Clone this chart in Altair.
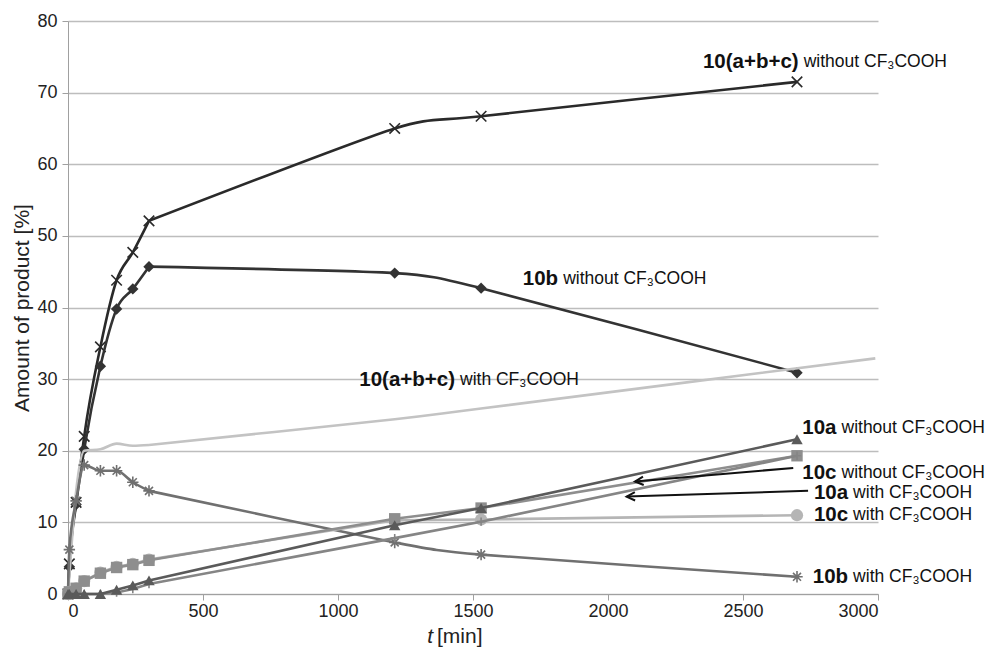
import altair as alt
import pandas as pd

FONT = "Liberation Sans"

# ---------------- data ----------------
times = [0, 5, 30, 60, 120, 180, 240, 300, 1210, 1530, 2700]
times_abc_with = [0, 5, 30, 60, 120, 180, 240, 300, 1210, 1530, 2990]

abc_without = [0, 4.2, 12.8, 22.0, 34.5, 43.8, 47.7, 52.1, 65.0, 66.7, 71.5]
b_without = [0, 3.8, 12.5, 20.2, 31.8, 39.8, 42.6, 45.7, 44.8, 42.7, 30.9]
abc_with = [0, 2.6, 14.3, 20.0, 20.2, 21.0, 20.7, 20.8, 24.4, 25.9, 32.9]
b_with = [0, 6.2, 13.0, 18.0, 17.2, 17.2, 15.6, 14.4, 7.2, 5.5, 2.4]
a_without = [0, 0, 0, 0, 0, 0.6, 1.2, 1.9, 9.6, 12.0, 21.6]
c_without = [0, 0.3, 0.8, 1.8, 2.9, 3.7, 4.1, 4.7, 10.5, 12.0, 19.3]
c_with = [0, 0.3, 0.8, 1.8, 3.0, 3.8, 4.2, 4.8, 10.3, 10.4, 11.0]
a_with = [0, 0, 0, 0, 0, 0.2, 0.7, 1.4, 7.8, 10.1, 19.3]

# annotation labels: bold part, normal part, anchor (junction) position
ann_bold = ["10(a+b+c)", "10b", "10(a+b+c)", "10a", "10c", "10a", "10c", "10b"]
ann_rest = ["without CF₃COOH", "without CF₃COOH", "with CF₃COOH", "without CF₃COOH",
            "without CF₃COOH", "with CF₃COOH", "with CF₃COOH", "with CF₃COOH"]
ann_x = [2710, 1819, 1437, 2850, 2850, 2893, 2893, 2893]
ann_y = [74.3, 44.0, 29.9, 23.2, 16.9, 14.1, 11.0, 2.4]

# arrows: start (label side) -> end (tip on the line)
arr_x = [2686, 2741]
arr_y = [17.6, 14.4]
arr_x2 = [2100, 2069]
arr_y2 = [15.7, 13.6]
arr_angle = [355, 358]

X_PATH = "M-1,-1L1,1M-1,1L1,-1"
AST_PATH = "M-1,0L1,0M0,-1L0,1M-0.7,-0.7L0.7,0.7M-0.7,0.7L0.7,-0.7"
PLUS_PATH = "M-1,0L1,0M0,-1L0,1"
ARROW_PATH = "M2,-1L0,0L2,1"

SPLIT = 7  # index of t = 300: the smoothed curves bend there

series = [
    # times, values, color, smooth?, marker shape, filled, size
    (times, abc_without, "#2a2a2a", True, X_PATH, False, 110),
    (times, b_without, "#333333", True, "diamond", True, 130),
    (times_abc_with, abc_with, "#c3c3c3", True, None, True, 0),
    (times, b_with, "#707070", True, AST_PATH, False, 130),
    (times, c_with, "#b5b5b5", False, "circle", True, 150),
    (times, c_without, "#8e8e8e", False, "square", True, 130),
    (times, a_with, "#858585", False, PLUS_PATH, False, 70),
    (times, a_without, "#5a5a5a", False, "triangle-up", True, 130),
]

xscale = alt.Scale(domain=[0, 3000], nice=False)
yscale = alt.Scale(domain=[0, 80], nice=False)

x_axis = alt.Axis(values=[0, 500, 1000, 1500, 2000, 2500, 3000], grid=False, format="d",
                  domainColor="#a0a0a0", tickColor="#a0a0a0", tickSize=6,
                  labelFontSize=18, labelFont=FONT, labelColor="#222",
                  labelPadding=2, title=None)
y_axis = alt.Axis(values=list(range(0, 81, 10)), grid=True, gridColor="#bdbdbd",
                  gridWidth=1.5, domainColor="#a0a0a0", tickColor="#a0a0a0",
                  tickSize=6, labelFontSize=18, labelFont=FONT, labelColor="#222",
                  labelPadding=5, title="Amount of product [%]", titleFont=FONT,
                  titleFontSize=21, titleFontWeight="normal", titleColor="#222",
                  titlePadding=4)


def X(field):
    return alt.X(field, type="quantitative", scale=xscale, axis=x_axis)


def Y(field):
    return alt.Y(field, type="quantitative", scale=yscale, axis=y_axis)


layers = []
for ts, vals, col, smooth, shape, filled, size in series:
    df = pd.DataFrame({"t": ts, "v": vals})
    base = alt.Chart(df)
    if smooth:
        early = alt.Chart(df.iloc[:SPLIT + 1])
        late = alt.Chart(df.iloc[SPLIT:])
        layers.append(early.mark_line(color=col, strokeWidth=2.6, interpolate="monotone")
                      .encode(x=X("t"), y=Y("v")))
        layers.append(late.mark_line(color=col, strokeWidth=2.6, interpolate="cardinal",
                                     tension=0.35)
                      .encode(x=X("t"), y=Y("v")))
    else:
        layers.append(base.mark_line(color=col, strokeWidth=2.6, interpolate="linear")
                      .encode(x=X("t"), y=Y("v")))
    if shape is not None:
        if filled:
            pm = base.mark_point(shape=shape, filled=True, color=col, size=size, opacity=1)
        else:
            pm = base.mark_point(shape=shape, filled=False, color=col, size=size,
                                 strokeWidth=1.6, opacity=1)
        layers.append(pm.encode(x=X("t"), y=Y("v")))

ann = pd.DataFrame({"t": ann_x, "v": ann_y, "bold": ann_bold, "rest": ann_rest})
layers.append(alt.Chart(ann).mark_text(align="right", baseline="middle", font=FONT,
                                       fontSize=20.5, fontWeight="bold", color="#111", dx=-1)
              .encode(x=X("t"), y=Y("v"), text="bold:N"))
layers.append(alt.Chart(ann).mark_text(align="left", baseline="middle", font=FONT,
                                       fontSize=17.5, color="#111", dx=4)
              .encode(x=X("t"), y=Y("v"), text="rest:N"))

arr = pd.DataFrame({"t": arr_x, "v": arr_y, "t2": arr_x2, "v2": arr_y2, "a": arr_angle})
layers.append(alt.Chart(arr).mark_rule(color="#111", strokeWidth=2)
              .encode(x=X("t"), y=Y("v"), x2="t2:Q", y2="v2:Q"))
layers.append(alt.Chart(arr).mark_point(shape=ARROW_PATH, filled=False, color="#111",
                                        strokeWidth=2, size=70, opacity=1)
              .encode(x=X("t2"), y=Y("v2"), angle=alt.Angle("a:Q", scale=None)))

# x axis title with italic t
xt = pd.DataFrame({"t": [1352], "v": [0]})
layers.append(alt.Chart(xt).mark_text(align="right", baseline="middle", font=FONT,
                                      fontSize=21, fontStyle="italic", color="#222",
                                      text="t")
              .encode(x=X("t"), y=alt.value(616)))
layers.append(alt.Chart(xt).mark_text(align="left", baseline="middle", font=FONT,
                                      fontSize=21, color="#222", dx=4, text="[min]")
              .encode(x=X("t"), y=alt.value(616)))

chart = alt.layer(*layers).properties(
    width=810, height=573,
    autosize=alt.AutoSizeParams(type="none"),
    padding={"left": 60, "top": 13, "right": 110, "bottom": 56},
    background="white",
).configure_view(stroke=None)

chart.save("out.html", embed_options={"renderer": "svg", "actions": False})
